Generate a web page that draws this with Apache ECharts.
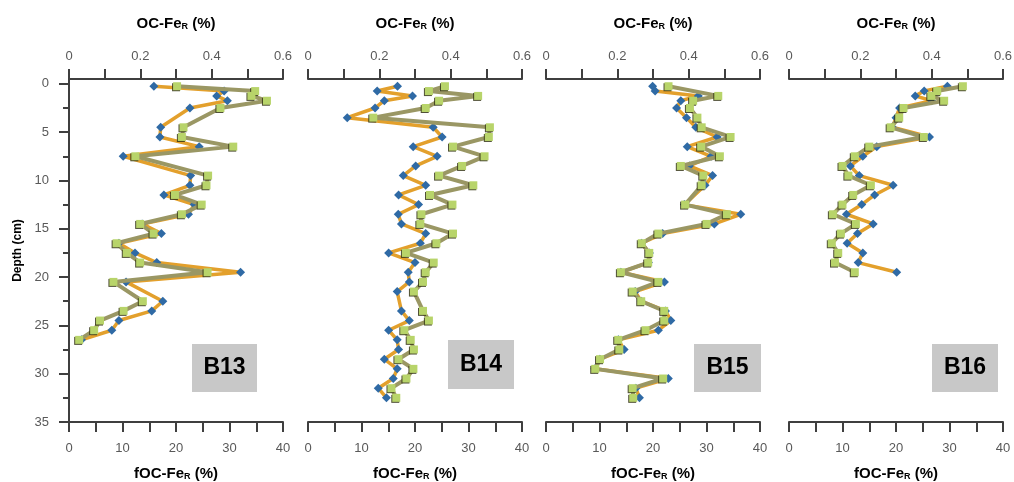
<!doctype html>
<html><head><meta charset="utf-8"></head>
<body style="margin:0;width:1014px;height:482px;background:#fff">
<div id="container" style="width:1014px;height:482px"></div>
<script src="https://cdn.jsdelivr.net/npm/echarts@6/dist/echarts.min.js"></script>
<script>
// depth (cm) and values read from the profiles
var coreNames = ['B13', 'B14', 'B15', 'B16'];

var b13Depth = [0.25,0.75,1.25,1.75,2.5,4.5,5.5,6.5,7.5,9.5,10.5,11.5,12.5,13.5,14.5,15.5,16.5,17.5,18.5,19.5,20.5,22.5,23.5,24.5,25.5,26.5];
var b13OC = [0.238,0.435,0.414,0.444,0.339,0.257,0.255,0.365,0.152,0.341,0.339,0.266,0.351,0.335,0.205,0.259,0.14,0.185,0.246,0.481,0.16,0.263,0.232,0.14,0.12,0.035];
var b13FOC = [20.2,34.8,34.1,37.0,28.3,21.4,21.1,30.7,12.4,26.0,25.7,19.8,24.8,21.1,13.3,15.8,8.9,10.8,13.3,25.9,8.3,13.8,10.2,5.8,4.7,1.9];

var b14Depth = [0.25,0.75,1.25,1.75,2.5,3.5,4.5,5.5,6.5,7.5,8.5,9.5,10.5,11.5,12.5,13.5,14.5,15.5,16.5,17.5,18.5,19.5,20.5,21.5,23.5,24.5,25.5,26.5,27.5,28.5,29.5,30.5,31.5,32.5];
var b14OC = [0.251,0.194,0.293,0.214,0.188,0.11,0.351,0.376,0.295,0.362,0.302,0.267,0.33,0.254,0.31,0.253,0.262,0.33,0.315,0.226,0.3,0.281,0.284,0.25,0.262,0.284,0.226,0.25,0.254,0.214,0.25,0.239,0.197,0.22];
var b14FOC = [25.6,22.6,31.8,24.5,22.0,12.2,34.0,33.8,27.1,33.0,28.8,24.5,30.9,22.8,27.0,21.2,21.0,27.1,24.0,18.3,23.5,22.0,21.5,19.8,21.5,22.6,18.0,19.2,19.8,16.9,19.7,18.4,15.6,16.5];

var b15DepthOC = [0.25,0.75,1.25,1.75,2.5,3.5,4.5,5.5,6.5,7.5,8.5,9.5,10.5,12.5,13.5,14.5,15.5,16.5,17.5,18.5,19.5,20.5,21.5,22.5,23.5,24.5,25.5,26.5,27.5,28.5,29.5,30.5,31.5,32.5];
var b15OC = [0.299,0.306,0.427,0.378,0.366,0.394,0.42,0.48,0.396,0.463,0.402,0.467,0.446,0.388,0.546,0.472,0.327,0.268,0.29,0.287,0.21,0.332,0.25,0.267,0.335,0.35,0.315,0.203,0.219,0.151,0.137,0.343,0.252,0.262];
var b15DepthFOC = [0.25,1.25,1.75,2.5,3.5,4.5,5.5,6.5,7.5,8.5,9.5,10.5,12.5,13.5,14.5,15.5,16.5,17.5,18.5,19.5,20.5,21.5,22.5,23.5,24.5,25.5,26.5,27.5,28.5,29.5,30.5,31.5,32.5];
var b15FOC = [22.9,32.2,27.5,26.9,28.3,29.1,34.5,29.0,32.5,25.2,29.4,29.1,26.0,33.8,30.0,21.0,17.9,19.3,19.1,14.0,21.0,16.2,17.8,22.1,22.1,18.6,13.5,13.7,10.1,9.2,21.9,16.2,16.3];

var b16Depth = [0.25,0.75,1.25,1.75,2.5,3.5,4.5,5.5,6.5,7.5,8.5,9.5,10.5,11.5,12.5,13.5,14.5,15.5,16.5,17.5,18.5,19.5];
var b16OC = [0.444,0.379,0.354,0.40,0.31,0.30,0.29,0.394,0.246,0.207,0.172,0.197,0.292,0.24,0.204,0.161,0.236,0.192,0.163,0.207,0.194,0.302];
var b16FOC = [32.5,27.7,26.6,29.0,21.4,20.6,19.0,25.2,15.0,12.3,10.0,11.1,15.3,12.0,10.0,8.2,12.5,9.7,8.0,9.2,8.6,12.3];

var ocTicks = [0, 0.2, 0.4, 0.6];
var focTicks = [0, 10, 20, 30, 40];
var depthTicks = [0, 5, 10, 15, 20, 25, 30, 35];
var depthMinorTicks = [2.5, 7.5, 12.5, 17.5, 22.5, 27.5, 32.5];

var panels = [
    {oc: [b13Depth, b13OC], foc: [b13Depth, b13FOC]},
    {oc: [b14Depth, b14OC], foc: [b14Depth, b14FOC]},
    {oc: [b15DepthOC, b15OC], foc: [b15DepthFOC, b15FOC]},
    {oc: [b16Depth, b16OC], foc: [b16Depth, b16FOC]}
];

function pairs(depth, vals) {
    return vals.map(function (v, i) { return [v, depth[i]]; });
}

var lefts = [69, 308, 546, 789];
var boxes = [[192, 344, 65, 48], [448, 340, 66, 49], [694, 344, 67, 48], [932, 344, 66, 48]];
var axisColor = '#3f3f3f';
var labelStyle = {color: '#595959', fontSize: 13, fontFamily: 'Liberation Sans, Arial'};
var nameStyle = {
    color: '#000', fontSize: 15, fontWeight: 'bold', fontFamily: 'Liberation Sans, Arial',
    rich: {s: {fontSize: 9, fontWeight: 'bold', verticalAlign: 'bottom', padding: [6, 0, 0, 0]}}
};

var grid = [], xAxis = [], yAxis = [], series = [], graphic = [];

lefts.forEach(function (left, i) {
    grid.push({left: left, width: 214, top: 79, height: 343, outerBoundsMode: 'none', containLabel: false});

    xAxis.push({
        gridIndex: i, type: 'value', position: 'top', min: 0, max: 0.6, interval: 0.1,
        name: 'OC-Fe{s|R} (%)', nameLocation: 'middle', nameGap: 48, nameTextStyle: nameStyle,
        axisLine: {onZero: false, lineStyle: {color: axisColor, width: 2}},
        axisTick: {length: 10, lineStyle: {color: axisColor, width: 2}},
        axisLabel: Object.assign({margin: 16, customValues: ocTicks,
            formatter: function (v) { return String(Math.round(v * 10) / 10); }}, labelStyle),
        splitLine: {show: false}
    });
    xAxis.push({
        gridIndex: i, type: 'value', position: 'bottom', min: 0, max: 40, interval: 5,
        name: 'fOC-Fe{s|R} (%)', nameLocation: 'middle', nameGap: 44, nameTextStyle: nameStyle,
        axisLine: {onZero: false, lineStyle: {color: axisColor, width: 2}},
        axisTick: {length: 10, lineStyle: {color: axisColor, width: 2}},
        axisLabel: Object.assign({margin: 20, customValues: focTicks}, labelStyle),
        splitLine: {show: false}
    });

    yAxis.push({
        gridIndex: i, type: 'value', position: 'left', inverse: true, min: -0.5, max: 35,
        show: i === 0,
        name: i === 0 ? 'Depth (cm)' : '', nameLocation: 'middle', nameGap: 45,
        nameTextStyle: {color: '#000', fontSize: 12, fontWeight: 'bold', fontFamily: 'Liberation Sans, Arial'},
        axisLine: {show: true, onZero: false, lineStyle: {color: axisColor, width: 2}},
        axisTick: {length: 10, customValues: depthTicks, lineStyle: {color: axisColor, width: 2}},
        axisLabel: Object.assign({margin: 20, customValues: depthTicks}, labelStyle),
        splitLine: {show: false}
    });

    var p = panels[i];
    series.push({
        type: 'line', name: 'OC-FeR', xAxisIndex: i * 2, yAxisIndex: i,
        data: pairs(p.oc[0], p.oc[1]),
        lineStyle: {color: '#E3A02C', width: 3.5},
        symbol: 'diamond', symbolSize: 9,
        itemStyle: {color: '#2F6AA5'},
        z: 2, silent: true
    });
    series.push({
        type: 'line', name: 'fOC-FeR', xAxisIndex: i * 2 + 1, yAxisIndex: i,
        data: pairs(p.foc[0], p.foc[1]),
        lineStyle: {color: '#9A9764', width: 4},
        symbol: 'rect', symbolSize: 8,
        itemStyle: {color: '#B8D46A', shadowColor: 'rgba(50,50,20,0.85)', shadowBlur: 0, shadowOffsetX: -1, shadowOffsetY: 1},
        z: 3, silent: true
    });

    var b = boxes[i];
    graphic.push({
        type: 'rect', shape: {x: b[0], y: b[1], width: b[2], height: b[3]},
        style: {fill: '#c8c8c8'}, z: 10
    });
    graphic.push({
        type: 'text', x: b[0] + b[2] / 2, y: b[1] + b[3] / 2, z: 11,
        style: {text: coreNames[i], fill: '#000', font: 'bold 23px "Liberation Sans", Arial',
            align: 'center', verticalAlign: 'middle'}
    });
});

// minor depth ticks on the first panel
yAxis.push({
    gridIndex: 0, type: 'value', position: 'left', inverse: true, min: -0.5, max: 35,
    axisLine: {show: false, onZero: false},
    axisTick: {length: 6, customValues: depthMinorTicks, lineStyle: {color: axisColor, width: 2}},
    axisLabel: {show: false},
    splitLine: {show: false}
});

var myChart = echarts.init(document.getElementById('container'));
myChart.setOption({
    animation: false,
    grid: grid,
    xAxis: xAxis,
    yAxis: yAxis,
    series: series,
    graphic: graphic
});
</script>
</body></html>
